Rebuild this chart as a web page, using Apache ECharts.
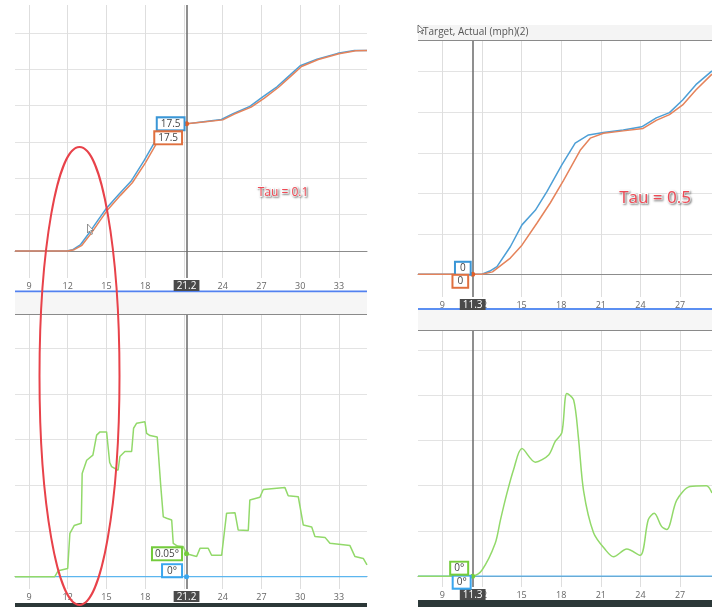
<!DOCTYPE html>
<html>
<head>
<meta charset="utf-8">
<script src="https://cdn.jsdelivr.net/npm/echarts@6/dist/echarts.min.js"></script>
<style>
  html, body { margin: 0; padding: 0; background: #fff; }
  #main { width: 712px; height: 607px; }
</style>
</head>
<body>
<div id="main"></div>
<script>
// tick labels
var leftTicks = [9, 12, 15, 18, 21, 24, 27, 30, 33];
var rightTicks = [9, 12, 15, 18, 21, 24, 27];
var speedTicks = [0, 5, 10, 15, 20, 25, 30];
var angleTicks = [0, 0.1, 0.2, 0.3, 0.4, 0.5];

// cursor readouts
var leftCursor = 21.2;
var rightCursor = 11.3;
var leftReadout = { target: 17.5, actual: 17.5, angle: 0.05, ref: 0 };
var rightReadout = { target: 0, actual: 0, angle: 0, ref: 0 };

// Tau = 0.1 : speed target / actual (mph)
var leftTarget = [[7.92,0],[11.9,0],[12.4,0.2],[13.0,0.9],[13.7,2.6],[14.4,4.4],[15.0,5.9],[16.0,7.9],[16.9,9.6],[17.9,12.4],[18.8,15.2],[19.5,16.7],[20.3,17.3],[21.2,17.5],[22.5,17.8],[23.9,18.1],[24.8,18.9],[26.1,19.9],[27.1,21.2],[28.2,22.6],[29.2,24.2],[30.0,25.5],[31.3,26.4],[32.9,27.2],[34.2,27.6],[35.17,27.6]];
var leftActual = [[7.92,0],[12.0,0],[12.5,0.2],[13.1,0.8],[13.8,2.4],[14.5,4.2],[15.1,5.7],[16.1,7.7],[17.0,9.4],[18.0,12.1],[18.9,14.9],[19.6,16.5],[20.4,17.2],[21.2,17.5],[22.5,17.75],[24.0,18.05],[24.9,18.85],[26.2,19.8],[27.2,21.0],[28.3,22.5],[29.3,24.1],[30.1,25.4],[31.4,26.35],[33.0,27.15],[34.3,27.55],[35.17,27.6]];
// Tau = 0.1 : steering angle (deg)
var leftAngle = [[7.92,0],[11.0,0],[11.27,0.013],[12.0,0.018],[12.17,0.095],[12.5,0.112],[13.05,0.117],[13.12,0.226],[13.47,0.255],[13.95,0.266],[14.24,0.31],[14.5,0.317],[15.01,0.317],[15.25,0.25],[15.4,0.241],[15.9,0.233],[16.04,0.263],[16.43,0.274],[16.95,0.274],[17.1,0.325],[17.34,0.336],[17.98,0.339],[18.11,0.314],[18.37,0.309],[18.93,0.306],[19.2,0.2],[19.4,0.131],[19.66,0.128],[20.05,0.124],[20.17,0.073],[20.5,0.067],[20.94,0.066],[21.2,0.05],[21.98,0.044],[22.24,0.062],[22.88,0.062],[23.14,0.047],[23.92,0.047],[24.3,0.139],[24.95,0.14],[25.2,0.102],[25.98,0.101],[26.1,0.168],[26.88,0.174],[27.14,0.191],[28.82,0.195],[29.07,0.177],[29.85,0.175],[30.24,0.113],[30.89,0.109],[31.14,0.088],[31.92,0.086],[32.3,0.073],[33.85,0.068],[34.24,0.044],[34.88,0.04],[35.17,0.026]];
var leftRef = [[7.92,0],[35.17,0]];

// Tau = 0.5 : speed target / actual (mph)
var rightTarget = [[7.16,0],[12.0,0],[12.6,0.4],[13.14,0.94],[14.15,3.4],[15.03,6.1],[16.04,7.9],[16.92,10.2],[18.05,13.5],[19.06,16.2],[20.07,17.2],[21.2,17.5],[22.7,17.8],[24.1,18.2],[25.2,19.3],[26.2,19.95],[27.2,21.5],[28.2,23.4],[29.42,25.1]];
var rightActual = [[7.16,0],[12.0,0],[12.8,0.3],[14.15,2.0],[15.03,3.6],[16.16,6.3],[17.17,8.8],[18.18,11.6],[19.44,15.3],[20.2,16.8],[21.2,17.4],[22.7,17.7],[24.2,18.0],[25.2,19.0],[26.2,19.7],[27.2,20.9],[28.2,22.75],[29.42,24.7]];
// Tau = 0.5 : steering angle (deg)
var rightAngle = [[7.16,0],[11.3,0],[12.0,0.013],[13.0,0.072],[13.4,0.124],[13.9,0.184],[14.4,0.236],[15.03,0.282],[16.04,0.252],[17.05,0.268],[17.55,0.298],[18.05,0.317],[18.43,0.404],[18.94,0.39],[19.3,0.308],[19.7,0.188],[20.45,0.096],[21.33,0.059],[21.96,0.043],[22.97,0.06],[23.98,0.046],[24.6,0.125],[25.05,0.139],[25.6,0.11],[26.0,0.103],[26.75,0.168],[27.75,0.198],[29.0,0.2],[29.42,0.184]];
var rightRef = [[7.16,0],[29.42,0]];

var blue = '#4d9fd6';
var orange = '#e5835b';
var green = '#92d96a';
var skyBlue = '#5cb6ef';

function xAxisOf(grid, min, max, ticks) {
    return {
        type: 'value', gridIndex: grid, min: min, max: max,
        axisLine: { show: true, lineStyle: { color: '#8c8c8c', width: 1 } },
        axisTick: { show: false, customValues: ticks },
        axisLabel: { customValues: ticks, fontSize: 9, color: '#666', margin: 4, fontFamily: 'Open Sans' },
        splitLine: { show: true, lineStyle: { color: '#dedede', width: 1 } }
    };
}
function yAxisOf(grid, min, max, ticks) {
    return {
        type: 'value', gridIndex: grid, min: min, max: max,
        axisLine: { show: false },
        axisTick: { show: false, customValues: ticks },
        axisLabel: { show: false, customValues: ticks },
        splitLine: { show: true, lineStyle: { color: '#e3e3e3', width: 1 } }
    };
}
function cursorLine(x) {
    return {
        silent: true,
        symbol: ['none', 'none'],
        lineStyle: { color: '#6a6a6a', width: 1.5, type: 'solid' },
        label: {
            show: true, position: 'start', distance: 2,
            formatter: String(x), color: '#fff', backgroundColor: '#4a4a4a',
            padding: [1, 3, 0, 3], fontSize: 10, fontFamily: 'Open Sans'
        },
        emphasis: { disabled: true },
        data: [{ xAxis: x }]
    };
}
function readout(x, y, text, color, dy, dotColor, padX) {
    return {
        silent: true,
        symbol: 'circle',
        symbolSize: dotColor ? 5 : 0,
        itemStyle: { color: dotColor || color },
        label: {
            show: true, position: 'left', distance: 3, offset: [0, dy],
            formatter: text, color: '#444', backgroundColor: '#fff',
            borderColor: color, borderWidth: 2, padding: [1, padX || 3, 0, padX || 3],
            fontSize: 10, fontFamily: 'Open Sans'
        },
        data: [{ coord: [x, y] }]
    };
}
function lineSeries(xi, data, color, extra) {
    var s = {
        type: 'line', xAxisIndex: xi, yAxisIndex: xi, data: data,
        showSymbol: false, symbol: 'none', silent: true,
        lineStyle: { color: color, width: 1.5 }, itemStyle: { color: color }
    };
    for (var k in extra) s[k] = extra[k];
    return s;
}

var option = {
    animation: false,
    backgroundColor: '#fff',
    grid: [
        { left: 15, top: 5, width: 352, height: 273 },
        { left: 15, top: 315, width: 352, height: 274 },
        { left: 418, top: 41, width: 294, height: 256 },
        { left: 418, top: 331, width: 294, height: 256 }
    ],
    xAxis: [
        xAxisOf(0, 7.92, 35.17, leftTicks),
        xAxisOf(1, 7.92, 35.17, leftTicks),
        xAxisOf(2, 7.16, 29.42, rightTicks),
        xAxisOf(3, 7.16, 29.42, rightTicks)
    ],
    yAxis: [
        yAxisOf(0, -3.7, 33.85, speedTicks),
        yAxisOf(1, -0.027, 0.573, angleTicks),
        yAxisOf(2, -2.8, 28.79, speedTicks),
        yAxisOf(3, -0.024, 0.542, angleTicks)
    ],
    series: [
        lineSeries(0, leftTarget, blue, {
            markLine: cursorLine(leftCursor),
            markPoint: readout(leftCursor, leftReadout.target, String(leftReadout.target), '#3a96d6', 0)
        }),
        lineSeries(0, leftActual, orange, {
            markPoint: readout(leftCursor, leftReadout.actual, String(leftReadout.actual), '#e0703f', 14, '#e0602a')
        }),
        lineSeries(1, leftRef, skyBlue, {
            lineStyle: { color: skyBlue, width: 1.2 },
            markPoint: readout(leftCursor, leftReadout.ref, leftReadout.ref + '°', '#3aa6ee', -6, '#3aa6ee', 4)
        }),
        lineSeries(1, leftAngle, green, {
            markLine: cursorLine(leftCursor),
            markPoint: readout(leftCursor, leftReadout.angle, leftReadout.angle + '°', '#74cc3c', 0, '#74cc3c', 2)
        }),
        lineSeries(2, rightTarget, blue, {
            markLine: cursorLine(rightCursor),
            markPoint: readout(rightCursor, rightReadout.target, String(rightReadout.target), '#3a96d6', -6, null, 4)
        }),
        lineSeries(2, rightActual, orange, {
            markPoint: readout(rightCursor, rightReadout.actual, String(rightReadout.actual), '#e0703f', 7, '#e0602a', 4)
        }),
        lineSeries(3, rightRef, skyBlue, {
            lineStyle: { color: skyBlue, width: 1.2 },
            markPoint: readout(rightCursor, rightReadout.ref, rightReadout.ref + '°', '#3aa6ee', 6, null, 3)
        }),
        lineSeries(3, rightAngle, green, {
            smooth: 0.3,
            markLine: cursorLine(rightCursor),
            markPoint: readout(rightCursor, rightReadout.angle, rightReadout.angle + '°', '#74cc3c', -8, '#74cc3c', 3)
        })
    ],
    graphic: [
        // left panel chrome
        { type: 'rect', z: 1, shape: { x: 15, y: 290.5, width: 352, height: 2 }, style: { fill: '#5281f0' } },
        { type: 'rect', z: 1, shape: { x: 15, y: 292.5, width: 352, height: 22 }, style: { fill: '#f6f6f6' } },
        { type: 'line', z: 1, shape: { x1: 15, y1: 314.5, x2: 367, y2: 314.5 }, style: { stroke: '#8a8a8a', lineWidth: 1 } },
        { type: 'rect', z: 1, shape: { x: 15, y: 603, width: 352, height: 4 }, style: { fill: '#2c3838' } },
        // right panel chrome
        { type: 'rect', z: 1, shape: { x: 418, y: 25, width: 294, height: 15 }, style: { fill: '#f4f4f4' } },
        { type: 'line', z: 1, shape: { x1: 418, y1: 40.5, x2: 712, y2: 40.5 }, style: { stroke: '#8a8a8a', lineWidth: 1 } },
        { type: 'text', z: 2, x: 423, y: 32.5, style: { text: 'Target, Actual (mph)(2)', fill: '#555', fontSize: 10, fontFamily: 'Open Sans', verticalAlign: 'middle' } },
        { type: 'polygon', z: 3, shape: { points: [[418, 25], [418, 33], [420, 31], [422, 34], [423, 33.5], [421.5, 30.5], [424, 30.5]] }, style: { fill: '#fff', stroke: '#555', lineWidth: 0.8 } },
        { type: 'rect', z: 1, shape: { x: 418, y: 308, width: 294, height: 2 }, style: { fill: '#5b8ff2' } },
        { type: 'rect', z: 1, shape: { x: 418, y: 310, width: 294, height: 20 }, style: { fill: '#f6f6f6' } },
        { type: 'line', z: 1, shape: { x1: 418, y1: 330.5, x2: 712, y2: 330.5 }, style: { stroke: '#8a8a8a', lineWidth: 1 } },
        { type: 'rect', z: 1, shape: { x: 418, y: 600, width: 294, height: 7 }, style: { fill: '#2c3838' } },
        // mouse pointer in left chart
        { type: 'polygon', z: 50, shape: { points: [[87.5, 224], [87.5, 233], [89.5, 231], [91.5, 234.5], [92.5, 234], [90.8, 230.5], [93.5, 230.5]] }, style: { fill: '#fff', stroke: '#777', lineWidth: 0.8 } },
        // annotations
        { type: 'text', z: 60, x: 283, y: 193, style: { text: 'Tau = 0.1', fill: '#ef4a55', stroke: '#fff', lineWidth: 2, fontSize: 12, fontFamily: 'Open Sans', align: 'center', verticalAlign: 'middle', textShadowColor: 'rgba(0,0,0,0.35)', textShadowBlur: 2, textShadowOffsetX: 1, textShadowOffsetY: 1 } },
        { type: 'text', z: 60, x: 655, y: 198, style: { text: 'Tau = 0.5', fill: '#ef4a55', stroke: '#fff', lineWidth: 2, fontSize: 17, fontFamily: 'Open Sans', align: 'center', verticalAlign: 'middle', textShadowColor: 'rgba(0,0,0,0.35)', textShadowBlur: 2, textShadowOffsetX: 1, textShadowOffsetY: 1 } },
        { type: 'ellipse', z: 100, shape: { cx: 79.5, cy: 376, rx: 40, ry: 229 }, style: { fill: 'none', stroke: '#e8424a', lineWidth: 2 } }
    ]
};

var chart = echarts.init(document.getElementById('main'), null, { renderer: 'canvas' });
chart.setOption(option);
window.addEventListener('resize', function () { chart.resize(); });
</script>
</body>
</html>
